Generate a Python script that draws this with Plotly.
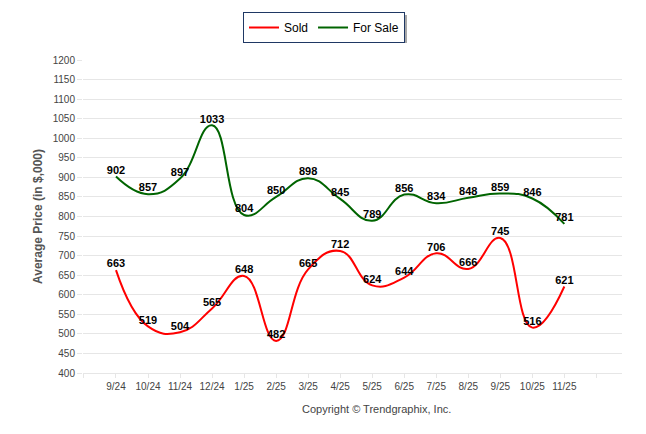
import plotly.graph_objects as go

months = ["9/24", "10/24", "11/24", "12/24", "1/25", "2/25", "3/25", "4/25",
          "5/25", "6/25", "7/25", "8/25", "9/25", "10/25", "11/25"]
sold = [663, 519, 504, 565, 648, 482, 665, 712, 624, 644, 706, 666, 745, 516, 621]
for_sale = [902, 857, 897, 1033, 804, 850, 898, 845, 789, 856, 834, 848, 859, 846, 781]
y_ticks = list(range(400, 1201, 50))

idx = list(range(len(months)))
tickvals = list(range(-1, len(months) + 1))
ticktext = [""] + months + [""]

FONT = "Liberation Sans, Arial, sans-serif"

fig = go.Figure()
fig.add_trace(go.Scatter(
    x=idx, y=sold, name="Sold", mode="lines+text",
    line=dict(color="#FF0000", width=2, shape="spline", smoothing=1.3),
    text=[str(v) for v in sold], textposition="top center",
    textfont=dict(family=FONT, size=11, color="#000000", weight="bold"),
    cliponaxis=False,
))
fig.add_trace(go.Scatter(
    x=idx, y=for_sale, name="For Sale", mode="lines+text",
    line=dict(color="#006400", width=2, shape="spline", smoothing=1.3),
    text=[str(v) for v in for_sale], textposition="top center",
    textfont=dict(family=FONT, size=11, color="#000000", weight="bold"),
    cliponaxis=False,
))

fig.update_layout(
    width=638, height=426,
    margin=dict(l=75, r=24, t=52, b=61),
    paper_bgcolor="white", plot_bgcolor="white",
    font=dict(family=FONT, size=10, color="#444444"),
    showlegend=True,
    legend=dict(
        orientation="h", xref="container", yref="container",
        x=0.4953, xanchor="center", y=0.9906, yanchor="top",
        bgcolor="white", bordercolor="#1F3864", borderwidth=1,
        font=dict(family=FONT, size=12, color="#000000"),
        itemwidth=30,
    ),
    shapes=[dict(
        type="rect", xref="paper", yref="paper",
        x0=0.3043, x1=0.6011, y0=1.0543, y1=1.1438,
        fillcolor="#A8A8A8", line=dict(width=0), layer="above",
    )],
    xaxis=dict(
        range=[-1.03, 15.8], tickmode="array", tickvals=tickvals, ticktext=ticktext,
        showgrid=False, zeroline=False, showline=True, linecolor="#E6E6E6",
        ticks="outside", ticklen=4, tickcolor="#E6E6E6",
        tickfont=dict(family=FONT, size=10, color="#444444"),
    ),
    yaxis=dict(
        range=[400, 1200], tickmode="array", tickvals=y_ticks,
        showgrid=True, gridcolor="#E6E6E6", zeroline=False, showline=False,
        ticks="outside", ticklen=5, tickcolor="#E6E6E6",
        tickfont=dict(family=FONT, size=10, color="#444444"),
        title=dict(text="Average Price (in $,000)", standoff=7,
                   font=dict(family=FONT, size=12, color="#555555", weight="bold")),
    ),
    annotations=[dict(
        text="Copyright \u00a9 Trendgraphix, Inc.", xref="paper", yref="paper",
        x=0.544, y=-0.115, xanchor="center", yanchor="middle", showarrow=False,
        font=dict(family=FONT, size=11, color="#444444"),
    )],
)

fig.write_html("out.html")
